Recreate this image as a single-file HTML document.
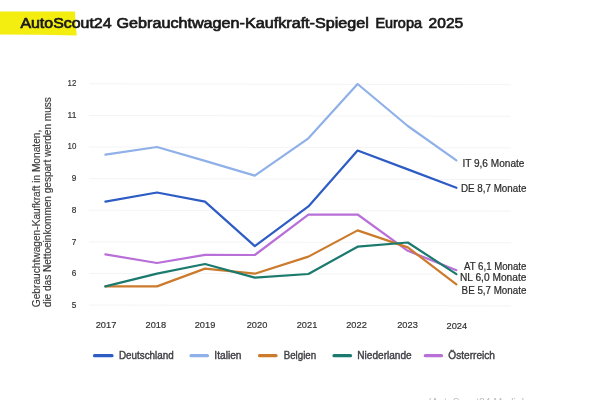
<!DOCTYPE html>
<html><head><meta charset="utf-8"><title>AutoScout24 Gebrauchtwagen-Kaufkraft-Spiegel Europa 2025</title>
<style>
html,body{margin:0;padding:0;background:#fff;}
body{width:600px;height:400px;overflow:hidden;position:relative;font-family:"Liberation Sans",sans-serif;}
svg{position:absolute;left:0;top:0;display:block;filter:blur(0.3px);}
text{font-family:"Liberation Sans",sans-serif;}
</style></head><body>
<svg width="600" height="400" viewBox="0 0 600 400">
<defs><filter id="b" x="-5%" y="-5%" width="110%" height="110%"><feGaussianBlur stdDeviation="0.35"/></filter></defs>
<rect x="0" y="0" width="600" height="400" fill="#ffffff"/>
<path d="M0 11.4 L75 11.4 L75.6 24 L76.8 35.5 L40 34.7 L0 34.4 Z" fill="#f4ed10"/>
<g font-size="15.2" fill="#1a1a1a" stroke="#1a1a1a" stroke-width="0.72" lengthAdjust="spacingAndGlyphs">
<text x="20.4" y="28.2" textLength="91.2" lengthAdjust="spacingAndGlyphs">AutoScout24</text>
<text x="116.5" y="28.2" textLength="252.4" lengthAdjust="spacingAndGlyphs">Gebrauchtwagen-Kaufkraft-Spiegel</text>
<text x="375.4" y="28.2" textLength="46.6" lengthAdjust="spacingAndGlyphs">Europa</text>
<text x="428.6" y="28.2" textLength="34.6" lengthAdjust="spacingAndGlyphs">2025</text>
</g>

<line x1="89" x2="511" y1="83.8" y2="84.7" stroke="#f4f4f4" stroke-width="1"/>
<line x1="89" x2="511" y1="115.4" y2="116.3" stroke="#f4f4f4" stroke-width="1"/>
<line x1="89" x2="511" y1="147.0" y2="147.9" stroke="#f4f4f4" stroke-width="1"/>
<line x1="89" x2="511" y1="178.6" y2="179.5" stroke="#f4f4f4" stroke-width="1"/>
<line x1="89" x2="511" y1="210.2" y2="211.1" stroke="#f4f4f4" stroke-width="1"/>
<line x1="89" x2="511" y1="241.8" y2="242.7" stroke="#f4f4f4" stroke-width="1"/>
<line x1="89" x2="511" y1="273.4" y2="274.3" stroke="#f4f4f4" stroke-width="1"/>
<line x1="89" x2="511" y1="305.0" y2="305.9" stroke="#f4f4f4" stroke-width="1"/>
<text x="67.6" y="85.9" font-size="9.8" fill="#333" stroke="#333" stroke-width="0.2" textLength="8.8" lengthAdjust="spacingAndGlyphs">12</text>
<text x="67.6" y="117.6" font-size="9.8" fill="#333" stroke="#333" stroke-width="0.2" textLength="8.8" lengthAdjust="spacingAndGlyphs">11</text>
<text x="67.6" y="149.4" font-size="9.8" fill="#333" stroke="#333" stroke-width="0.2" textLength="8.8" lengthAdjust="spacingAndGlyphs">10</text>
<text x="71.8" y="181.1" font-size="9.8" fill="#333" stroke="#333" stroke-width="0.2" textLength="4.6" lengthAdjust="spacingAndGlyphs">9</text>
<text x="71.8" y="212.9" font-size="9.8" fill="#333" stroke="#333" stroke-width="0.2" textLength="4.6" lengthAdjust="spacingAndGlyphs">8</text>
<text x="71.8" y="244.6" font-size="9.8" fill="#333" stroke="#333" stroke-width="0.2" textLength="4.6" lengthAdjust="spacingAndGlyphs">7</text>
<text x="71.8" y="276.3" font-size="9.8" fill="#333" stroke="#333" stroke-width="0.2" textLength="4.6" lengthAdjust="spacingAndGlyphs">6</text>
<text x="71.8" y="308.1" font-size="9.8" fill="#333" stroke="#333" stroke-width="0.2" textLength="4.6" lengthAdjust="spacingAndGlyphs">5</text>
<text transform="translate(40,307.2) rotate(-90)" font-size="10" fill="#3a3a3a" stroke="#3a3a3a" stroke-width="0.15" textLength="177.5" lengthAdjust="spacingAndGlyphs">Gebrauchtwagen-Kaufkraft in Monaten,</text>
<text transform="translate(51.2,307.2) rotate(-90)" font-size="10" fill="#3a3a3a" stroke="#3a3a3a" stroke-width="0.15" textLength="210" lengthAdjust="spacingAndGlyphs">die das Nettoeinkommen gespart werden muss</text>
<text x="106" y="328.0" font-size="9.6" fill="#333" text-anchor="middle" stroke="#333" stroke-width="0.2" textLength="20.6" lengthAdjust="spacingAndGlyphs">2017</text>
<text x="155.8" y="328.0" font-size="9.6" fill="#333" text-anchor="middle" stroke="#333" stroke-width="0.2" textLength="20.6" lengthAdjust="spacingAndGlyphs">2018</text>
<text x="205" y="328.0" font-size="9.6" fill="#333" text-anchor="middle" stroke="#333" stroke-width="0.2" textLength="20.6" lengthAdjust="spacingAndGlyphs">2019</text>
<text x="257" y="328.0" font-size="9.6" fill="#333" text-anchor="middle" stroke="#333" stroke-width="0.2" textLength="20.6" lengthAdjust="spacingAndGlyphs">2020</text>
<text x="307" y="328.0" font-size="9.6" fill="#333" text-anchor="middle" stroke="#333" stroke-width="0.2" textLength="20.6" lengthAdjust="spacingAndGlyphs">2021</text>
<text x="356.5" y="328.0" font-size="9.6" fill="#333" text-anchor="middle" stroke="#333" stroke-width="0.2" textLength="20.6" lengthAdjust="spacingAndGlyphs">2022</text>
<text x="407.5" y="328.0" font-size="9.6" fill="#333" text-anchor="middle" stroke="#333" stroke-width="0.2" textLength="20.6" lengthAdjust="spacingAndGlyphs">2023</text>
<text x="456.8" y="328.7" font-size="9.6" fill="#333" text-anchor="middle" stroke="#333" stroke-width="0.2" textLength="20.6" lengthAdjust="spacingAndGlyphs">2024</text>
<polyline points="105.4,154.6 157,147 205,160.9 254.8,175.6 308.4,138.3 357.6,84 407.8,126 456.4,160.4" fill="none" stroke="#8fb0e8" stroke-width="2.2" stroke-linejoin="round" stroke-linecap="round"/>
<polyline points="105.4,201.6 157,192.5 205,201.6 254.8,246.1 308.4,206.4 357.6,150.5 407.8,169.4 456.4,187.8" fill="none" stroke="#2e5cc5" stroke-width="2.2" stroke-linejoin="round" stroke-linecap="round"/>
<polyline points="105.4,254.4 157,263 205,254.8 254.8,255 308.4,214.6 357.6,214.5 407.8,250.8 456.4,270.2" fill="none" stroke="#b86fd8" stroke-width="2.2" stroke-linejoin="round" stroke-linecap="round"/>
<polyline points="105.4,286.4 157,286.4 205,268.6 254.8,273.7 308.4,256.6 357.6,230.4 407.8,247.4 456.4,284.3" fill="none" stroke="#cc7a2b" stroke-width="2.2" stroke-linejoin="round" stroke-linecap="round"/>
<polyline points="105.4,286.4 157,273.6 205,264 254.8,277.6 308.4,274 357.6,246.7 407.8,242.5 456.4,274.2" fill="none" stroke="#1a7a6e" stroke-width="2.2" stroke-linejoin="round" stroke-linecap="round"/>
<text x="462.4" y="166.8" font-size="10.6" fill="#2b2b2b" stroke="#2b2b2b" stroke-width="0.22" textLength="62.0" lengthAdjust="spacingAndGlyphs">IT 9,6 Monate</text>
<text x="461" y="192.1" font-size="10.6" fill="#2b2b2b" stroke="#2b2b2b" stroke-width="0.22" textLength="65.4" lengthAdjust="spacingAndGlyphs">DE 8,7 Monate</text>
<text x="464" y="269.7" font-size="10.6" fill="#2b2b2b" stroke="#2b2b2b" stroke-width="0.22" textLength="62.4" lengthAdjust="spacingAndGlyphs">AT 6,1 Monate</text>
<text x="460" y="280.7" font-size="10.6" fill="#2b2b2b" stroke="#2b2b2b" stroke-width="0.22" textLength="66.4" lengthAdjust="spacingAndGlyphs">NL 6,0 Monate</text>
<text x="461.6" y="293.7" font-size="10.6" fill="#2b2b2b" stroke="#2b2b2b" stroke-width="0.22" textLength="64.8" lengthAdjust="spacingAndGlyphs">BE 5,7 Monate</text>
<line x1="94.5" x2="112" y1="355.7" y2="355.7" stroke="#2e5cc5" stroke-width="3.2" stroke-linecap="round"/>
<text x="119" y="359.2" font-size="10.3" fill="#404048" stroke="#404048" stroke-width="0.4" textLength="54.6" lengthAdjust="spacingAndGlyphs">Deutschland</text>
<line x1="191" x2="207.5" y1="355.7" y2="355.7" stroke="#8fb0e8" stroke-width="3.2" stroke-linecap="round"/>
<text x="214.3" y="359.2" font-size="10.3" fill="#404048" stroke="#404048" stroke-width="0.4" textLength="27.2" lengthAdjust="spacingAndGlyphs">Italien</text>
<line x1="259.5" x2="276" y1="355.7" y2="355.7" stroke="#cc7a2b" stroke-width="3.2" stroke-linecap="round"/>
<text x="283.7" y="359.2" font-size="10.3" fill="#404048" stroke="#404048" stroke-width="0.4" textLength="32.5" lengthAdjust="spacingAndGlyphs">Belgien</text>
<line x1="334" x2="350.5" y1="355.7" y2="355.7" stroke="#1a7a6e" stroke-width="3.2" stroke-linecap="round"/>
<text x="357.3" y="359.2" font-size="10.3" fill="#404048" stroke="#404048" stroke-width="0.4" textLength="54.4" lengthAdjust="spacingAndGlyphs">Niederlande</text>
<line x1="425.3" x2="441.5" y1="355.7" y2="355.7" stroke="#b86fd8" stroke-width="3.2" stroke-linecap="round"/>
<text x="448.3" y="359.2" font-size="10.3" fill="#404048" stroke="#404048" stroke-width="0.4" textLength="46.7" lengthAdjust="spacingAndGlyphs">Österreich</text>
<text x="428" y="406" font-size="10" fill="#bdbdbd" textLength="97" lengthAdjust="spacingAndGlyphs">(AutoScout24 Media)</text>
</svg></body></html>
